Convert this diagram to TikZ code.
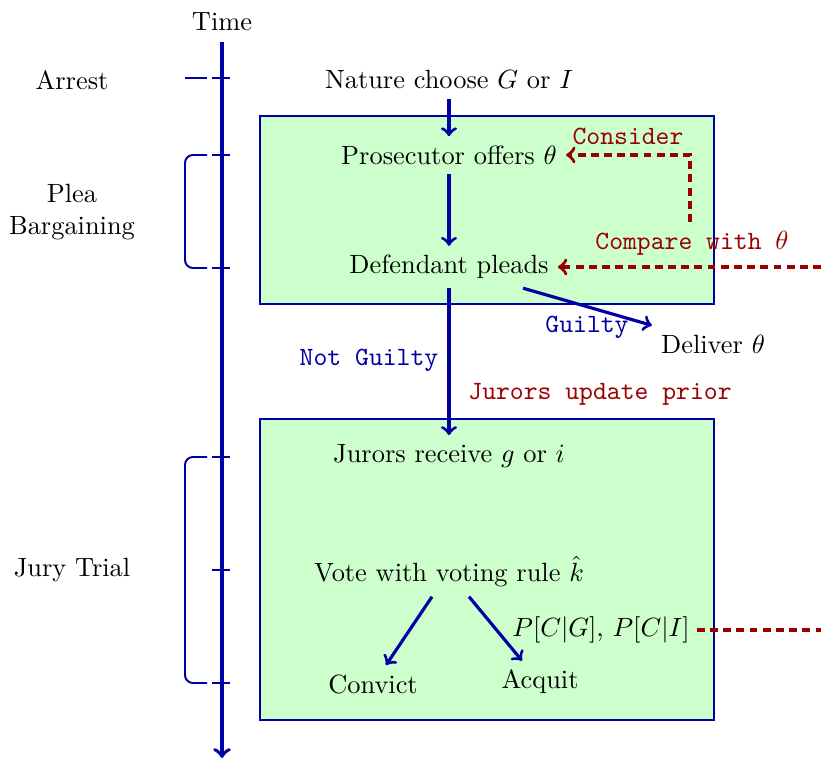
\documentclass[tikz,border=0pt]{standalone}
\usetikzlibrary{calc}
\definecolor{axblue}{RGB}{0,0,165}
\definecolor{dred}{RGB}{153,0,0}
\definecolor{boxgreen}{RGB}{204,255,204}
\begin{document}
\begin{tikzpicture}[x=0.379pt,y=-0.379pt,
  stage/.style={fill=boxgreen,draw=axblue,line width=0.85pt},
  flow/.style={->,draw=axblue,line width=1.2pt},
  rdash/.style={->,draw=dred,line width=1.3pt,dash pattern=on 3pt off 2pt},
  tick/.style={draw=axblue,line width=0.4pt},
  brk/.style={draw=axblue,line width=0.75pt,rounded corners=3pt},
  bluelab/.style={text=axblue,font=\ttfamily},
  redlab/.style={text=dred,font=\ttfamily}]
\useasboundingbox (0,0) rectangle (821,759);
% boxes
\draw[stage] (260,116) rectangle (714,304);
\draw[stage] (260,419) rectangle (714,720);
% time axis
\node (time) at (222,22) {Time};
\coordinate (axtop) at (222,42);
\coordinate (axbot) at (222,758);
\draw[->,draw=axblue,line width=1.4pt] (axtop) -- (axbot);
\foreach \y in {78,155,268,457,570,683} \draw[tick] (212,\y) -- (230,\y);
\draw[draw=axblue,line width=0.85pt] (185,78) -- (207,78);
\draw[brk] (207,155) -- (185,155) -- (185,268) -- (207,268);
\draw[brk] (207,457) -- (185,457) -- (185,683) -- (207,683);
% stage labels
\node (arrest) at (72,80) {Arrest};
\node[align=center] (plea) at (72,212) {Plea\\Bargaining};
\node (jury) at (72,570) {Jury Trial};
% main nodes
\node (nature) at (449,80) {Nature choose $G$ or $I$};
\node (pros) at (449,155) {Prosecutor offers $\theta$};
\node (def) at (449,267) {Defendant pleads};
\node (jurors) at (449,456) {Jurors receive $g$ or $i$};
\node (vote) at (449,572) {Vote with voting rule $\hat{k}$};
\node (convict) at (373,684) {Convict};
\node (acquit) at (540,682) {Acquit};
\node (deliver) at (713,344) {Deliver $\theta$};
\node[inner xsep=1pt] (prob) at (601,630) {$P[C|G]$, $P[C|I]$};
% flows
\draw[flow] (nature) -- (pros);
\draw[flow] (pros) -- (def);
\draw[flow] (def) -- (jurors);
\draw[flow] ($(def.south)+(74,0)$) -- (deliver.north west);
\draw[flow] ($(vote.south)+(-17,0)$) -- ($(convict.north)+(13,0)$);
\draw[flow] ($(vote.south)+(20,0)$) -- ($(acquit.north)+(-18,0)$);
\node[bluelab] (notguilty) at (369,360) {Not Guilty};
\node[bluelab] (guilty) at (587,327) {Guilty};
\node[redlab] (update) at (600,394) {Jurors update prior};
% red dashed
\coordinate (cons) at (690,222);
\draw[rdash] (cons) |- (pros.east);
\node[redlab] (consider) at (628,136) {Consider};
\coordinate (cmpR) at (821,267);
\draw[rdash] (cmpR) -- (def.east);
\node[redlab] (compare) at (692,243) {Compare with $\theta$};
\coordinate (probR) at (821,630);
\draw[draw=dred,line width=1.3pt,dash pattern=on 3pt off 2pt] ($(prob.east)+(4,0)$) -- (probR);
\end{tikzpicture}
\end{document}
